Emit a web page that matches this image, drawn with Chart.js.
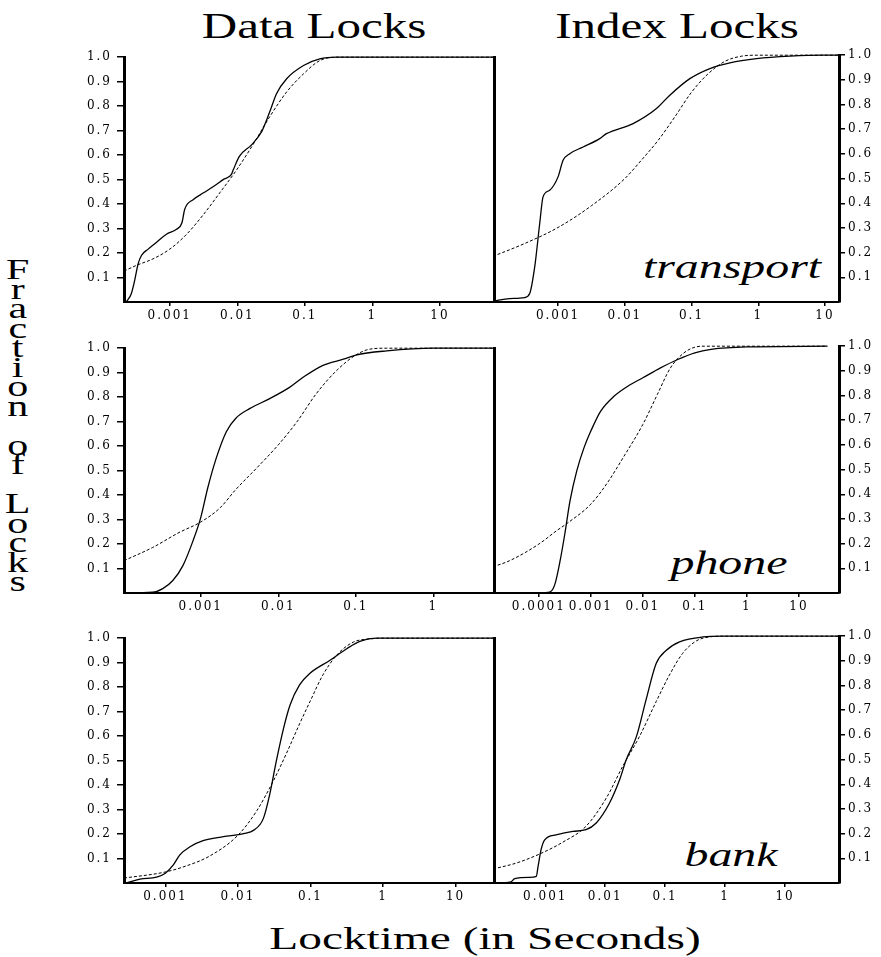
<!DOCTYPE html>
<html><head><meta charset="utf-8">
<script src="https://cdn.jsdelivr.net/npm/chart.js@4/dist/chart.umd.min.js"></script>
<style>
html,body{margin:0;padding:0;background:#fff;}
#root{position:relative;width:881px;height:957px;overflow:hidden;background:#fff;}
canvas{position:absolute;}
.t{position:absolute;font-family:'Liberation Serif','Times New Roman',serif;color:#000;white-space:nowrap;line-height:1;transform-origin:center center;}
</style></head>
<body><div id="root">
<div class="t" style="left:314px;top:9px;font-size:35px;transform:translateX(-50%) scaleX(1.4)">Data Locks</div>
<div class="t" style="left:677px;top:9px;font-size:35px;transform:translateX(-50%) scaleX(1.4)">Index Locks</div>
<div class="t" style="left:485px;top:922px;font-size:32px;transform:translateX(-50%) scaleX(1.48)">Locktime (in Seconds)</div>
<div class="t" style="left:732px;top:251px;font-size:33px;font-style:italic;transform:translateX(-50%) scaleX(1.45)">transport</div>
<div class="t" style="left:729px;top:547px;font-size:33px;font-style:italic;transform:translateX(-50%) scaleX(1.45)">phone</div>
<div class="t" style="left:731px;top:839px;font-size:33px;font-style:italic;transform:translateX(-50%) scaleX(1.45)">bank</div>
<div class="t" style="left:17px;top:252px;font-size:30px;writing-mode:vertical-lr;text-orientation:upright;letter-spacing:-13.5px;transform:translateX(-50%) scaleX(1.4)">Fraction of Locks</div>
</div>
<script>
// ---- values (x = log10 of locktime in seconds, y = fraction of locks) ----
// Data locks, transport
const dataTransportLogT  = [-3.644,-3.57,-3.52,-3.47,-3.42,-3.32,-3.20,-3.05,-2.90,-2.82,-2.78,-2.65,-2.50,-2.31,-2.21,-2.09,-2.06,-1.97,-1.79,-1.64,-1.52,-1.42,-1.27,-1.02,-0.78,-0.53,1.80];
const dataTransportFrac  = [0,0.034,0.088,0.155,0.19,0.216,0.243,0.277,0.297,0.324,0.378,0.419,0.446,0.48,0.5,0.52,0.54,0.595,0.642,0.696,0.777,0.851,0.912,0.966,0.993,1.0,1.0];
const dataTransportFitLogT = [-3.678,-3.50,-3.25,-3.0,-2.75,-2.50,-2.26,-2.01,-1.77,-1.52,-1.27,-1.02,-0.78,-0.53,1.80];
const dataTransportFitFrac = [0.126,0.149,0.176,0.216,0.277,0.358,0.446,0.54,0.642,0.757,0.858,0.932,0.986,1.0,1.0];
// Index locks, transport
const indexTransportLogT = [-3.975,-3.725,-3.5,-3.425,-3.35,-3.275,-3.225,-3.125,-3.0,-2.925,-2.825,-2.625,-2.375,-2.275,-1.875,-1.525,-1.325,-1.025,-0.725,-0.425,-0.025,0.475,0.975,1.21];
const indexTransportFrac = [0.003,0.014,0.018,0.034,0.142,0.318,0.426,0.453,0.507,0.574,0.601,0.628,0.662,0.682,0.723,0.784,0.838,0.905,0.946,0.969,0.986,0.996,1.0,1.0];
const indexTransportFitLogT = [-3.975,-3.5,-3.0,-2.5,-2.0,-1.75,-1.5,-1.25,-1.0,-0.75,-0.5,-0.25,0.0,1.21];
const indexTransportFitFrac = [0.185,0.237,0.302,0.39,0.50,0.575,0.655,0.75,0.85,0.925,0.975,0.996,1.0,1.0];
// Data locks, phone
const dataPhoneLogT = [-3.99,-3.62,-3.49,-3.36,-3.23,-3.10,-3.0,-2.91,-2.80,-2.67,-2.55,-2.37,-2.11,-1.85,-1.68,-1.43,-1.16,-1.0,-0.60,0,0.783];
const dataPhoneFrac = [0,0.003,0.018,0.051,0.112,0.213,0.308,0.429,0.551,0.659,0.713,0.753,0.794,0.841,0.881,0.929,0.955,0.972,0.989,1.0,1.0];
const dataPhoneFitLogT = [-3.99,-3.62,-3.28,-3.0,-2.75,-2.55,-2.28,-2.0,-1.76,-1.51,-1.25,-1.0,-0.82,-0.6,0.783];
const dataPhoneFitFrac = [0.132,0.186,0.247,0.290,0.348,0.422,0.510,0.605,0.699,0.814,0.908,0.972,0.996,1.0,1.0];
// Index locks, phone
const indexPhoneLogT = [-4.04,-3.78,-3.69,-3.59,-3.50,-3.40,-3.27,-3.13,-3.0,-2.81,-2.55,-2.29,-2.0,-1.66,-1.33,-1.0,-0.69,0,1.546];
const indexPhoneFrac = [0,0.005,0.036,0.131,0.239,0.373,0.495,0.589,0.656,0.737,0.798,0.838,0.872,0.912,0.946,0.973,0.987,0.997,1.0];
const indexPhoneFitLogT = [-4.88,-4.56,-4.0,-3.66,-3.43,-3.0,-2.68,-2.36,-2.0,-1.72,-1.47,-1.21,-1.0,-0.82,1.546];
const indexPhoneFitFrac = [0.106,0.131,0.198,0.252,0.286,0.360,0.447,0.555,0.683,0.805,0.912,0.973,0.996,1.0,1.0];
// Data locks, bank
const dataBankLogT = [-3.54,-3.35,-3.12,-3.0,-2.89,-2.80,-2.66,-2.48,-2.20,-1.92,-1.78,-1.65,-1.56,-1.47,-1.37,-1.28,-1.15,-1.01,-0.73,-0.50,-0.32,-0.09,1.53];
const dataBankFrac = [0,0.016,0.024,0.040,0.074,0.115,0.148,0.173,0.189,0.202,0.216,0.263,0.364,0.499,0.633,0.728,0.809,0.856,0.910,0.957,0.987,1.0,1.0];
const dataBankFitLogT = [-3.57,-3.0,-2.71,-2.39,-2.0,-1.74,-1.51,-1.33,-1.15,-1.0,-0.83,-0.64,-0.41,-0.18,0,1.53];
const dataBankFitFrac = [0.020,0.045,0.07,0.11,0.195,0.295,0.418,0.53,0.65,0.745,0.849,0.93,0.984,0.997,1.0,1.0];
// Index locks, bank
const indexBankLogT = [-3.87,-3.57,-3.51,-3.26,-3.15,-3.12,-3.07,-3.01,-2.82,-2.54,-2.32,-2.15,-1.93,-1.76,-1.65,-1.48,-1.32,-1.15,-0.98,-0.76,-0.37,-0.04,1.9];
const indexBankFrac = [0,0.005,0.018,0.023,0.027,0.067,0.135,0.175,0.195,0.209,0.216,0.243,0.323,0.418,0.499,0.593,0.741,0.889,0.943,0.977,0.997,1.0,1.0];
const indexBankFitLogT = [-3.87,-3.48,-3.09,-2.71,-2.32,-1.98,-1.71,-1.43,-1.15,-0.93,-0.71,-0.48,-0.26,-0.04,1.9];
const indexBankFitFrac = [0.057,0.081,0.118,0.165,0.23,0.345,0.472,0.593,0.735,0.842,0.930,0.981,0.997,1.0,1.0];

// axis ranges (log10 seconds) per panel: data-transport, index-transport, data-phone, index-phone, data-bank, index-bank
const panelXMinLog = [-3.678,-3.975,-3.99,-4.88,-3.57,-3.872];
const panelXMaxLog = [1.80,1.21,0.783,1.77,1.53,1.90];
// tick labels
const decadeValues = [0.0001,0.001,0.01,0.1,1,10];
const decadeLabels = ['0.0001','0.001','0.01','0.1','1','10'];
const yTickValues = [0.1,0.2,0.3,0.4,0.5,0.6,0.7,0.8,0.9,1.0];
const yTickLabels = ['0.1','0.2','0.3','0.4','0.5','0.6','0.7','0.8','0.9','1.0'];

const root = document.getElementById('root');
const TICK_FONT = {family:'DejaVu Serif', size:12};
const spacingPlugin = { id:'spacing', beforeDraw(chart){ chart.ctx.letterSpacing = '2px'; } };

function pts(lx, fy){ return lx.map((v,i)=>({x: Math.pow(10, v), y: fy[i]})); }

function makePanel(idx, col, top, solidX, solidY, fitX, fitY){
  const isLeft = col === 0;
  const canvas = document.createElement('canvas');
  const w = isLeft ? 436 : 391;
  canvas.width = w; canvas.height = 287;
  canvas.style.left = (isLeft ? 64 : 490) + 'px';
  canvas.style.top = top + 'px';
  canvas.style.width = w + 'px'; canvas.style.height = '287px';
  root.appendChild(canvas);
  const minL = panelXMinLog[idx], maxL = panelXMaxLog[idx];
  const xt = [], xl = [];
  decadeValues.forEach((v,i)=>{ const l = Math.log10(v); if (l >= minL && l <= maxL) { xt.push(v); xl.push(decadeLabels[i]); } });
  const scales = {
    x: {
      type:'logarithmic', bounds:'data', min: Math.pow(10,minL), max: Math.pow(10,maxL),
      afterBuildTicks: s => { s.ticks = xt.map(v=>({value:v})); },
      afterFit: s => { s.height = 30; },
      ticks: {autoSkip:false, maxRotation:0, minRotation:0, color:'#000', font:TICK_FONT, padding:3, callback:(v,i)=>xl[i]},
      grid: {display:true, drawOnChartArea:false, drawTicks:true, tickLength:4, color:'#000', lineWidth:1.5},
      border: {display:true, color:'#000', width:2}
    },
    y: {
      type:'linear', position: isLeft ? 'left' : 'right', min:0, max:1, bounds:'data',
      afterBuildTicks: s => { s.ticks = yTickValues.map(v=>({value:v})); },
      afterFit: s => { s.width = isLeft ? 60 : 42; },
      ticks: {autoSkip:false, color:'#000', font:TICK_FONT, padding: isLeft ? 5 : 3, callback:(v,i)=>yTickLabels[i]},
      grid: {display:true, drawOnChartArea:false, drawTicks:true, tickLength: isLeft ? 7 : 6, color:'#000', lineWidth:1.5},
      border: {display:true, color:'#000', width:3}
    }
  };
  if (isLeft) {
    scales.yr = {
      type:'linear', position:'right', min:0, max:1, display:true,
      afterFit: s => { s.width = 0; },
      ticks:{display:false}, grid:{display:true, drawOnChartArea:false, drawTicks:false},
      border:{display:true, color:'#000', width:3}
    };
  }
  new Chart(canvas, {
    type:'line',
    data:{ datasets:[
      {data: pts(fitX, fitY), borderColor:'#000', borderWidth:1, borderDash:[3,2], pointRadius:0, cubicInterpolationMode:'monotone', fill:false, clip:false},
      {data: pts(solidX, solidY), borderColor:'#000', borderWidth:1.3, pointRadius:0, cubicInterpolationMode:'monotone', fill:false, clip:false}
    ]},
    options:{
      responsive:false, animation:false, events:[],
      layout:{padding: isLeft ? {left:0, top:10, right:6, bottom:0} : {left:3, top:10, right:0, bottom:0}},
      plugins:{legend:{display:false}, tooltip:{enabled:false}, title:{display:false}},
      scales
    },
    plugins:[spacingPlugin]
  });
}

makePanel(0, 0, 45, dataTransportLogT, dataTransportFrac, dataTransportFitLogT, dataTransportFitFrac);
makePanel(1, 1, 45, indexTransportLogT, indexTransportFrac, indexTransportFitLogT, indexTransportFitFrac);
makePanel(2, 0, 336, dataPhoneLogT, dataPhoneFrac, dataPhoneFitLogT, dataPhoneFitFrac);
makePanel(3, 1, 336, indexPhoneLogT, indexPhoneFrac, indexPhoneFitLogT, indexPhoneFitFrac);
makePanel(4, 0, 626, dataBankLogT, dataBankFrac, dataBankFitLogT, dataBankFitFrac);
makePanel(5, 1, 626, indexBankLogT, indexBankFrac, indexBankFitLogT, indexBankFitFrac);
</script>
</body></html>
